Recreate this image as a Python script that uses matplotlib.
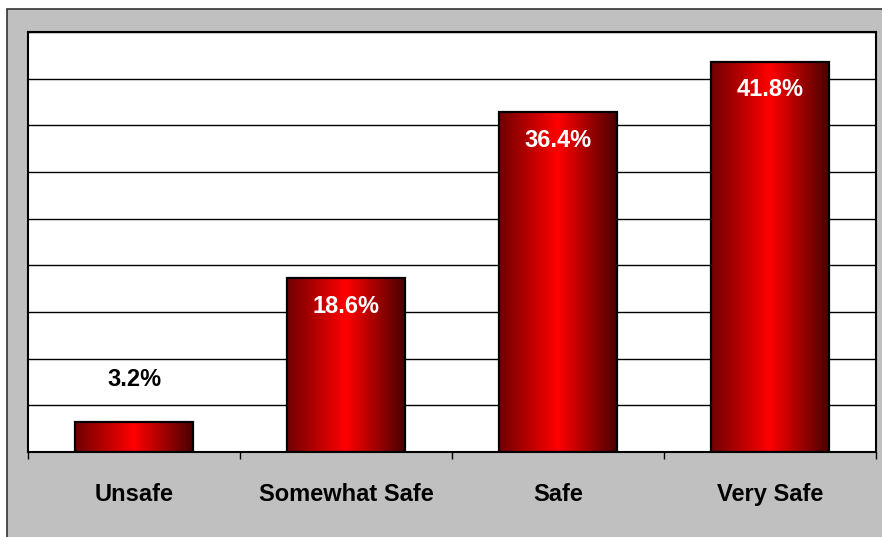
import matplotlib
matplotlib.use("Agg")
import matplotlib.pyplot as plt
import numpy as np
from matplotlib.colors import LinearSegmentedColormap
from matplotlib.patches import Rectangle

categories = ["Unsafe", "Somewhat Safe", "Safe", "Very Safe"]
values = [3.2, 18.6, 36.4, 41.8]
labels = ["3.2%", "18.6%", "36.4%", "41.8%"]

plt.rcParams['font.family'] = ['Liberation Sans', 'DejaVu Sans']

fig = plt.figure(figsize=(8.82, 5.37), dpi=100, facecolor="white")
# gray outer chart area
fig.patches.append(Rectangle((7/882, -0.1), 1.1, 1.1 - 9/537, transform=fig.transFigure,
                             facecolor="#C0C0C0", edgecolor="#333333", linewidth=1.2, zorder=-5))

ax = fig.add_axes([28/882, 85/537, 848/882, 420/537])
ax.set_zorder(1)
ax.set_facecolor("white")
ax.set_xlim(-0.5, 3.5)
ax.set_ylim(0, 45)

ax.set_yticks(np.arange(0, 46, 5))
ax.yaxis.grid(True, color="black", linewidth=1)
ax.set_axisbelow(True)
ax.tick_params(axis="y", left=False, labelleft=False)

for s in ax.spines.values():
    s.set_color("black")
    s.set_linewidth(1.5)

cmap = LinearSegmentedColormap.from_list("redgrad", [(0, "#700000"), (0.5, "#ff0000"), (1, "#4a0000")])
grad = np.linspace(0, 1, 256).reshape(1, -1)

x = np.arange(len(categories))
width = 0.556
bars = ax.bar(x, values, width=width, color="none", edgecolor="black", linewidth=1.6, zorder=3)
for b in bars:
    bx, by = b.get_x(), b.get_y()
    bw, bh = b.get_width(), b.get_height()
    im = ax.imshow(grad, cmap=cmap, aspect="auto", extent=(bx, bx + bw, by, by + bh), zorder=2,
                   interpolation="bilinear")
    im.set_clip_path(b)
ax.set_xlim(-0.5, 3.5)
ax.set_ylim(0, 45)

for i, (v, lab) in enumerate(zip(values, labels)):
    if v < 10:
        ax.annotate(lab, (x[i], v), xytext=(0, 31), textcoords="offset points",
                    ha="center", va="center", fontsize=17, fontweight="bold", color="black", zorder=4)
    else:
        ax.annotate(lab, (x[i], v), xytext=(0, -20), textcoords="offset points",
                    ha="center", va="center", fontsize=17, fontweight="bold", color="white", zorder=4)

ax.set_xticks(x)
ax.set_xticklabels(categories, fontsize=17, fontweight="bold")
ax.tick_params(axis="x", which="major", length=0, pad=22)
ax.set_xticks(np.arange(-0.5, 4.0, 1.0), minor=True)
ax.tick_params(axis="x", which="minor", length=5, width=1, color="black", direction="out")

fig.savefig("out.png", dpi=100, facecolor=fig.get_facecolor())
